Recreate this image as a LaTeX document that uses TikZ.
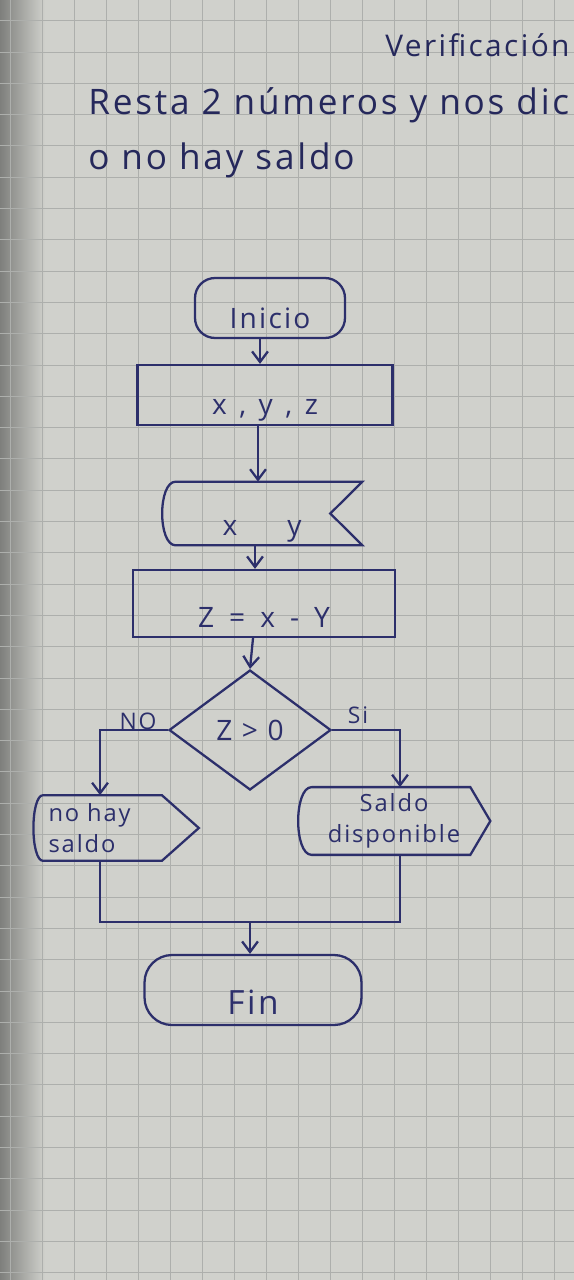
\documentclass[tikz,border=0pt]{standalone}
\usepackage{fontspec}
\setmainfont{Open Sans}[LetterSpace=8]
\usetikzlibrary{arrows.meta, calc, positioning, shapes.geometric}
\definecolor{tinta}{HTML}{2C2F6B}
\definecolor{papel}{HTML}{D0D1CC}
\definecolor{cuadro}{HTML}{ADAFAC}
\definecolor{sombra}{HTML}{7E7F7C}

\begin{document}
\begin{tikzpicture}[x=0.02cm, y=-0.02cm,
        linea/.style={draw=tinta, line width=1.3pt},
        flecha/.style={linea, -{Straight Barb[length=6pt, width=9pt]}},
        texto/.style={text=tinta, font=\fontsize{16}{19}\selectfont},
        abajo/.style={inner ysep=0.08cm, text depth=0.08cm, text height=#1},
        inicio/.style={texto, linea, rectangle, rounded corners=0.4cm},
        caja/.style={texto, linea, rectangle},
        decision/.style={texto, linea, diamond, inner sep=0pt},
        hueco/.style={texto, rectangle},
        salida/.style={text=tinta, font=\fontsize{13.5}{18}\selectfont, rectangle},
        etiqueta/.style={text=tinta, font=\fontsize{13}{15}\selectfont, inner sep=0pt},
        titulo/.style={text=tinta!85!black, font=\fontsize{20}{24}\selectfont, anchor=base west, inner sep=0pt}]
    \useasboundingbox (0,0) rectangle (574,1280);
    \fill[papel] (0,0) rectangle (574,1280);
    \shade[left color=sombra, right color=papel] (0,0) rectangle (45,1280);
    \foreach \gx in {10,42,...,574}
        \draw[cuadro, line width=0.5pt] (\gx,0) -- (\gx,1280);
    \foreach \gy in {20.7,52,...,1280}
        \draw[cuadro, line width=0.5pt] (0,\gy) -- (574,\gy);

    \node[titulo, font=\fontsize{17}{20}\selectfont] (tit) at (385,57) {Verificación};
    \node[titulo] (lin1) at (88,115) {Resta 2 números y nos dic};
    \node[titulo] (lin2) at (88,170) {o no hay saldo};

    \node[inicio, abajo=0.9cm, minimum width=3cm, minimum height=1.2cm] (ini) at (270,308) {Inicio};
    \node[caja, abajo=0.88cm, minimum width=5.1cm, minimum height=1.2cm] (dat) at (265,395)
        {x\hspace{0.25cm},\hspace{0.25cm}y\hspace{0.25cm},\hspace{0.25cm}z};
    \node[hueco, abajo=0.94cm, minimum width=4cm, minimum height=1.26cm] (lee) at (262,513.5)
        {x\hspace{1cm}y};
    \node[caja, abajo=1.02cm, minimum width=5.24cm, minimum height=1.34cm] (proc) at (264,603.5)
        {Z\hspace{0.3cm}=\hspace{0.3cm}x\hspace{0.3cm}-\hspace{0.3cm}Y};
    \node[decision, minimum width=3.24cm, minimum height=2.4cm] (dec) at (250,730) {Z > 0};
    \node[salida, text width=2.7cm, align=left, inner xsep=0.3cm, minimum height=1.3cm] (no) at (116,828)
        {no hay\\saldo};
    \node[salida, align=center, minimum width=3.84cm, minimum height=1.32cm] (si) at (394,821)
        {Saldo\\disponible};
    \node[inicio, abajo=1.06cm, rounded corners=0.55cm, minimum width=4.34cm, minimum height=1.4cm,
        font=\fontsize{19}{22}\selectfont] (fin) at (253,990) {Fin};
    \node[etiqueta] (tno) at (138,721) {NO};
    \node[etiqueta] (tsi) at (358,715) {Si};
    \coordinate (junta) at (250,922);

    \draw[linea] ($(lee.north west)+(14,0)$) -- (lee.north east) -- ($(lee.east)+(-32,0)$)
        -- (lee.south east) -- ($(lee.south west)+(14,0)$)
        .. controls ($(lee.south west)+(-4,0)$) and ($(lee.north west)+(-4,0)$) .. ($(lee.north west)+(14,0)$);
    \draw[linea] ($(no.north west)+(10,0)$) -- ($(no.north east)+(-37,0)$) -- (no.east)
        -- ($(no.south east)+(-37,0)$) -- ($(no.south west)+(10,0)$)
        .. controls ($(no.south west)+(-3,0)$) and ($(no.north west)+(-3,0)$) .. ($(no.north west)+(10,0)$);
    \draw[linea] ($(si.north west)+(14,0)$) -- ($(si.north east)+(-20,0)$) -- (si.east)
        -- ($(si.south east)+(-20,0)$) -- ($(si.south west)+(14,0)$)
        .. controls ($(si.south west)+(-4,0)$) and ($(si.north west)+(-4,0)$) .. ($(si.north west)+(14,0)$);

    \draw[flecha] ([xshift=-0.2cm]ini.south) -- ([xshift=-0.2cm]ini.south |- dat.north);
    \draw[flecha] ([xshift=-0.14cm]dat.south) -- ([xshift=-0.14cm]dat.south |- lee.north);
    \draw[flecha] ([xshift=-0.14cm]lee.south) -- ([xshift=-0.14cm]lee.south |- proc.north);
    \draw[flecha] ([xshift=-0.22cm]proc.south) -- (dec.north);
    \draw[flecha] (dec.west) -| ([xshift=-0.32cm]no.north);
    \draw[flecha] (dec.east) -| ([xshift=0.12cm]si.north);
    \draw[linea] ([xshift=-0.32cm]no.south) |- (junta) -| ([xshift=0.12cm]si.south);
    \draw[flecha] (junta) -- (junta |- fin.north);
\end{tikzpicture}
\end{document}
